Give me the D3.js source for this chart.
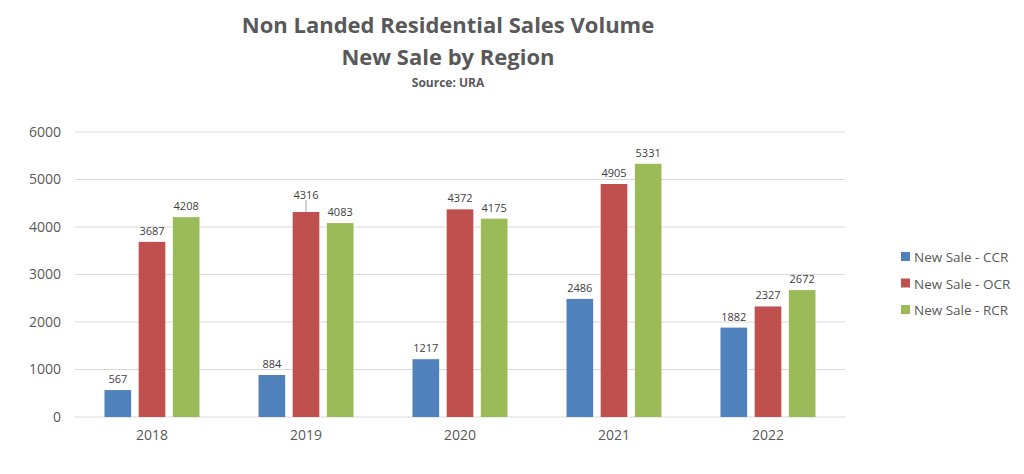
<!DOCTYPE html>
<html><head><meta charset="utf-8">
<script src="https://cdn.jsdelivr.net/npm/d3@7"></script>
<style>body{margin:0;background:#fff;}svg{display:block;}text{font-family:"Open Sans","Liberation Sans",sans-serif;}</style>
</head><body><svg id="c" width="1024" height="474"></svg>
<script>
const years = ["2018","2019","2020","2021","2022"];
const seriesNames = ["New Sale - CCR","New Sale - OCR","New Sale - RCR"];
const ccr = [567, 884, 1217, 2486, 1882];
const ocr = [3687, 4316, 4372, 4905, 2327];
const rcr = [4208, 4083, 4175, 5331, 2672];
const yTicks = [0,1000,2000,3000,4000,5000,6000];
const colors = ["#4F81BD","#C0504D","#9BBB59"];
const seriesVals = [ccr, ocr, rcr];

const svg = d3.select("#c");
const mLeft = 75, mRight = 845, mTop = 132, mBottom = 417;
const gW = 95;
const x = d3.scaleBand().domain(years).range([mLeft, mRight]);
const xs = d3.scaleBand().domain(seriesNames).range([0, gW]).paddingInner(0.22);
const y = d3.scaleLinear().domain([0, 6000]).range([mBottom, mTop]);

// grid
svg.append("g").selectAll("line").data(yTicks).join("line")
  .attr("x1", mLeft).attr("x2", mRight).attr("y1", d=>y(d)).attr("y2", d=>y(d))
  .attr("stroke", "#d9d9d9").attr("stroke-width", 1);

// y axis
const ya = svg.append("g").attr("transform", `translate(${mLeft},0)`)
  .call(d3.axisLeft(y).tickValues(yTicks).tickFormat(d3.format("d")).tickSize(0).tickPadding(14));
ya.select(".domain").remove();
ya.selectAll("text").attr("font-size", 14).attr("fill", "#595959").style("font-family","'Open Sans',sans-serif");

// x axis
const xa = svg.append("g").attr("transform", `translate(0,${mBottom})`)
  .call(d3.axisBottom(x).tickSize(0).tickPadding(13));
xa.select(".domain").remove();
xa.selectAll("text").attr("font-size", 14).attr("fill", "#595959").style("font-family","'Open Sans',sans-serif");

// bars
const groups = svg.append("g").selectAll("g").data(years).join("g")
  .attr("transform", d => `translate(${x(d) + (x.bandwidth()-gW)/2},0)`);
seriesNames.forEach((s, si) => {
  groups.append("rect")
    .attr("x", xs(s)).attr("width", xs.bandwidth())
    .attr("y", (d,i) => y(seriesVals[si][i]))
    .attr("height", (d,i) => mBottom - y(seriesVals[si][i]))
    .attr("fill", colors[si]);
  groups.append("text")
    .attr("x", xs(s) + xs.bandwidth()/2)
    .attr("y", (d,i) => y(seriesVals[si][i]) - (si===1 && i===1 ? 13 : 7))
    .attr("text-anchor","middle").attr("font-size", 11).attr("fill","#404040")
    .text((d,i) => seriesVals[si][i]);
});
// leader line for 2019 OCR label
{
  const gx = x("2019") + (x.bandwidth()-gW)/2 + xs("New Sale - OCR") + xs.bandwidth()/2;
  svg.append("line").attr("x1", gx).attr("x2", gx)
    .attr("y1", y(ocr[1]) - 12).attr("y2", y(ocr[1]))
    .attr("stroke", "#a6a6a6").attr("stroke-width", 1);
}

// title
svg.append("text").attr("x", 448).attr("y", 33).attr("text-anchor","middle")
  .attr("font-size", 22).attr("font-weight","bold").attr("fill","#595959")
  .text("Non Landed Residential Sales Volume");
svg.append("text").attr("x", 448).attr("y", 65).attr("text-anchor","middle")
  .attr("font-size", 22).attr("font-weight","bold").attr("fill","#595959")
  .text("New Sale by Region");
svg.append("text").attr("x", 448).attr("y", 87).attr("text-anchor","middle")
  .attr("font-size", 12).attr("font-weight","bold").attr("fill","#595959")
  .text("Source: URA");

// legend
const lg = svg.append("g").selectAll("g").data(seriesNames).join("g")
  .attr("transform", (d,i) => `translate(901,${257 + i*26.5})`);
lg.append("rect").attr("x", 0).attr("y", -5).attr("width", 9).attr("height", 9)
  .attr("fill", (d,i) => colors[i]);
lg.append("text").attr("x", 13).attr("y", 5).attr("font-size", 13.5).attr("fill","#595959")
  .text(d => d);
</script></body></html>
